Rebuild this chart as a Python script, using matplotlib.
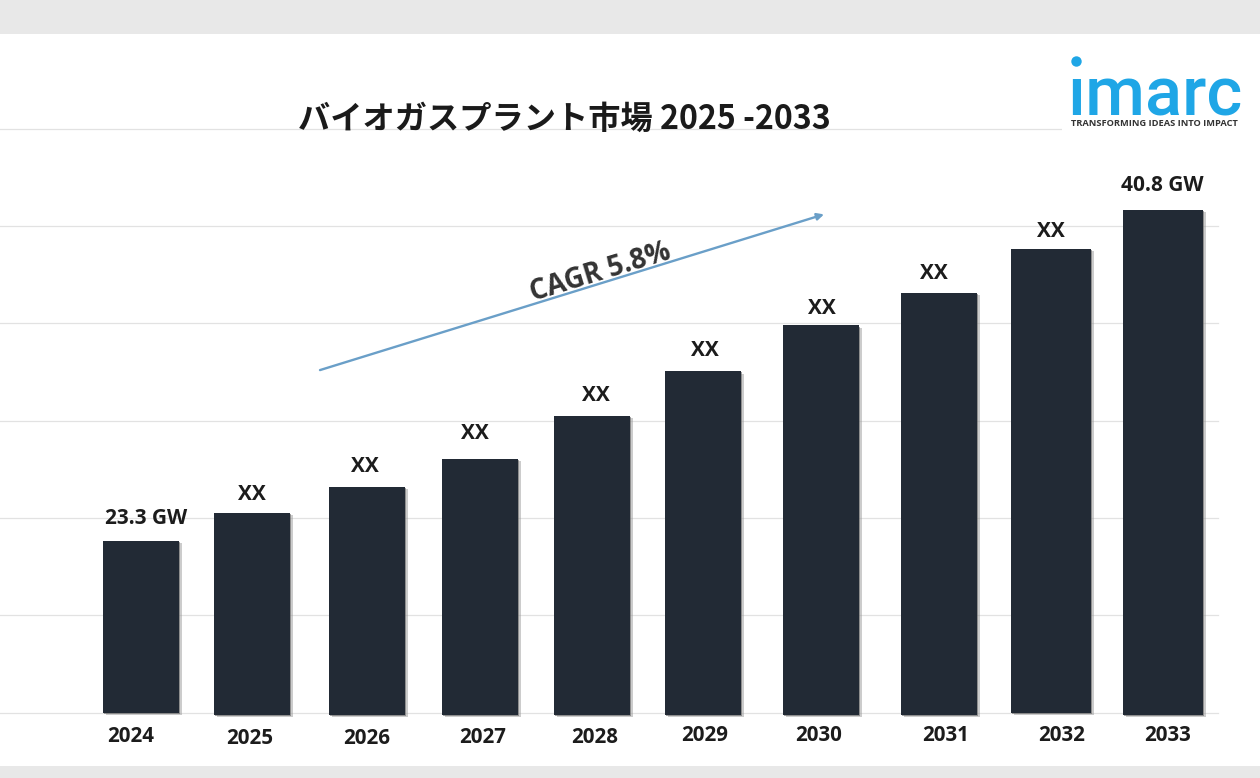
import matplotlib
matplotlib.use("Agg")
import matplotlib.pyplot as plt
import matplotlib.patheffects as pe
from matplotlib.lines import Line2D
from matplotlib.patches import Rectangle

# Data
years = ["2024", "2025", "2026", "2027", "2028", "2029", "2030", "2031", "2032", "2033"]
bar_tops = [17.67, 20.55, 23.22, 26.1, 30.5, 35.1, 39.8, 43.15, 47.67, 51.68]
value_labels = ["23.3 GW", "XX", "XX", "XX", "XX", "XX", "XX", "XX", "XX", "40.8 GW"]
title = "バイオガスプラント市場 2025 -2033"
cagr_text = "CAGR 5.8%"

# Layout
bar_centers = [141, 252, 367, 480, 592, 703, 821, 939, 1051, 1163]
bar_widths = [76, 76, 76, 76, 76, 76, 76, 76, 80, 80]
bar_bottoms = [0, -0.2, -0.2, -0.2, -0.2, -0.2, -0.2, -0.2, 0, -0.2]
label_x = [146, 252, 365, 475, 596, 705, 822, 934, 1051, 1162]
label_y = [19.93, 22.4, 25.28, 28.67, 32.57, 37.2, 41.5, 45.1, 49.4, 54.15]
tick_x = [131, 250, 367, 483, 595, 705, 819, 946, 1062, 1168]
tick_pads = [9.5, 10.8, 10.8, 10, 10, 8.5, 8.5, 8.5, 8.5, 8.5]
grid_ticks = [0, 10, 20, 30, 40, 50, 60]

INK = "#222a35"
TEXT = "#1c1c1c"
BLUE = "#1fa6e6"
BAND = "#e8e8e8"

W, H = 1260, 778
fig = plt.figure(figsize=(W / 100, H / 100), dpi=100, facecolor="white")
ax = fig.add_axes([0, 65.3 / H, 1218 / W, 584 / H])
ax.set_xlim(0, 1218)
ax.set_ylim(0, 60)
ax.patch.set_alpha(0)

for s in ax.spines.values():
    s.set_visible(False)
ax.set_yticks(grid_ticks)
ax.tick_params(axis="y", left=False, labelleft=False)
ax.yaxis.grid(True, color="#e2e2e2", linewidth=0.9, zorder=0, clip_on=False)
ax.set_axisbelow(True)
for gl in ax.get_ygridlines():
    gl.set_clip_on(False)

bars = ax.bar(
    bar_centers,
    [t - b for t, b in zip(bar_tops, bar_bottoms)],
    width=bar_widths,
    bottom=bar_bottoms,
    color=INK,
    zorder=3,
    clip_on=False,
)
for b in bars:
    b.set_path_effects([
        pe.SimplePatchShadow(offset=(1.8, -1.8), shadow_rgbFace="#9a9a9a", alpha=0.5),
        pe.SimplePatchShadow(offset=(0.9, -0.9), shadow_rgbFace="#666666", alpha=0.6),
        pe.Normal(),
    ])

lab_font = ["Open Sans", "DejaVu Sans"]
ax.set_xticks(tick_x, years)
ax.tick_params(axis="x", length=0, labelsize=14.8, labelcolor=TEXT)
for tk, pad, lb in zip(ax.xaxis.get_major_ticks(), tick_pads, ax.get_xticklabels()):
    tk.set_pad(pad)
    lb.set_fontfamily(lab_font)
    lb.set_fontweight("bold")

for x, y, t in zip(label_x, label_y, value_labels):
    ax.text(x, y, t, ha="center", va="center", fontsize=15, family=lab_font,
            fontweight="bold", color=TEXT, zorder=5, clip_on=False)

# CAGR arrow and label
ax.annotate("", xy=(824, 51.2), xytext=(320, 35.2),
            arrowprops=dict(arrowstyle="-|>,head_length=0.4,head_width=0.2",
                            color="#6a9fc8", lw=1.7, shrinkA=0, shrinkB=0), zorder=4)
ax.text(600, 45.2, cagr_text, rotation=17, rotation_mode="anchor", ha="center", va="center",
        fontsize=19.8, family=lab_font, fontweight="bold", color="#333333", zorder=5)

# Title
fig.text(564 / W, 1 - 119 / H, title, ha="center", va="center", fontsize=23.2,
         family=["Noto Sans CJK JP", "DejaVu Sans"], fontweight="bold", color="#1a1a1a")

# Top and bottom page bands
fig.add_artist(Rectangle((0, 1 - 34 / H), 1, 34 / H, transform=fig.transFigure, color=BAND, lw=0, zorder=-1))
fig.add_artist(Rectangle((0, 0), 1, 12 / H, transform=fig.transFigure, color=BAND, lw=0, zorder=-1))

# Logo (masks the grid line behind its tagline)
fig.add_artist(Rectangle((1062 / W, 1 - 131 / H), 190 / W, 92 / H, transform=fig.transFigure,
                         color="white", lw=0, zorder=1))
fig.text(1154.5 / W, 1 - 115 / H, "ımarc", ha="center", va="baseline", fontsize=49.5,
         family=["Roboto", "DejaVu Sans"], fontweight="medium", color=BLUE, zorder=2)
fig.add_artist(Line2D([1076 / W], [1 - 61 / H], transform=fig.transFigure, marker="o",
                      markersize=7.5, color=BLUE, markeredgewidth=0, zorder=2))
fig.text(1154 / W, 1 - 123 / H, "TRANSFORMING IDEAS INTO IMPACT", ha="center", va="center",
         fontsize=6.7, family=["Open Sans", "DejaVu Sans"], fontweight="bold", color="#333333", zorder=2)

fig.savefig("out.png", dpi=100)
